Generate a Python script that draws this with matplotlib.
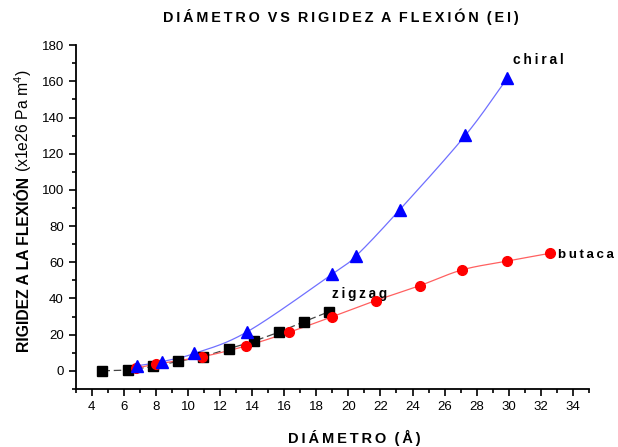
import numpy as np
import matplotlib.pyplot as plt
from matplotlib.ticker import MultipleLocator

plt.rcParams['font.family'] = ['Liberation Sans', 'DejaVu Sans']
plt.rcParams['mathtext.fontset'] = 'custom'
plt.rcParams['mathtext.rm'] = 'Liberation Sans'

# zigzag
zig_x = [4.67, 6.27, 7.85, 9.38, 10.94, 12.55, 14.09, 15.65, 17.22, 18.8]
zig_y = [0.0, 0.4, 2.4, 5.2, 7.8, 12.2, 16.3, 21.3, 27.1, 32.7]
# butaca
but_x = [6.79, 8.03, 10.9, 13.6, 16.3, 19.0, 21.7, 24.46, 27.1, 29.87, 32.6]
but_y = [1.5, 3.7, 7.8, 13.7, 21.3, 29.9, 38.8, 47.1, 55.8, 60.6, 65.0]
# chiral
chi_x = [6.85, 8.35, 10.4, 13.7, 19.0, 20.5, 23.2, 27.3, 29.9]
chi_y = [2.8, 5.0, 9.6, 21.6, 53.5, 63.7, 89.0, 130.2, 161.6]


def smooth(x, y, n=30):
    # catmull-rom curve through the points, only for drawing the line
    x = np.asarray(x, float)
    y = np.asarray(y, float)
    px = np.concatenate([[2 * x[0] - x[1]], x, [2 * x[-1] - x[-2]]])
    py = np.concatenate([[2 * y[0] - y[1]], y, [2 * y[-1] - y[-2]]])
    t = np.linspace(0, 1, n)
    xs, ys = [], []
    for i in range(1, len(px) - 2):
        for p, out in ((px, xs), (py, ys)):
            p0, p1, p2, p3 = p[i - 1], p[i], p[i + 1], p[i + 2]
            out.extend(0.5 * (2 * p1 + (-p0 + p2) * t
                              + (2 * p0 - 5 * p1 + 4 * p2 - p3) * t ** 2
                              + (-p0 + 3 * p1 - 3 * p2 + p3) * t ** 3))
    return xs, ys


def spaced(s):
    # a little letter spacing, like the original
    return '\u2009'.join(s)


W, H = 618, 447
fig = plt.figure(figsize=(6.18, 4.47), dpi=100)
ax = fig.add_axes([0.1225, 0.13, 0.8305, 0.769])

ax.plot(zig_x, zig_y, color='#444444', lw=0.9, dashes=(6, 3), zorder=2)
ax.plot(zig_x, zig_y, ls='none', marker='s', ms=6.5, color='black', zorder=3)

sx, sy = smooth(but_x, but_y)
ax.plot(sx, sy, color='#ff6060', lw=0.9, zorder=2)
ax.plot(but_x, but_y, ls='none', marker='o', ms=7, color='red', zorder=4)

sx, sy = smooth(chi_x, chi_y)
ax.plot(sx, sy, color='#7070ff', lw=0.9, zorder=2)
ax.plot(chi_x, chi_y, ls='none', marker='^', ms=9, color='blue', zorder=5)

ax.text(30.25, 171.6, spaced('chiral'), fontsize=10, fontweight='bold', va='center')
ax.text(33.05, 64, spaced('butaca'), fontsize=9.6, fontweight='bold', va='center')
ax.text(19.0, 42.6, spaced('zigzag'), fontsize=9.8, fontweight='bold', va='center')

ax.set_xlim(3, 35)
ax.set_ylim(-10, 180)
ax.xaxis.set_major_locator(MultipleLocator(2))
ax.xaxis.set_minor_locator(MultipleLocator(1))
ax.yaxis.set_major_locator(MultipleLocator(20))
ax.yaxis.set_minor_locator(MultipleLocator(10))
ax.tick_params(which='major', length=5, width=1.2, labelsize=9.5)
ax.tick_params(which='minor', length=3, width=1.2)
for s in ['top', 'right']:
    ax.spines[s].set_visible(False)
for s in ['left', 'bottom']:
    ax.spines[s].set_linewidth(1.3)

ax.set_xlabel(spaced('DIÁMETRO') + '  ' + spaced('(Å)'), fontsize=10.5, fontweight='bold')
ax.xaxis.set_label_coords(0.543, -0.118)

# y label: bold part, then the unit in normal weight
yl1 = fig.text(29 / W, 1 - 352 / H, 'RIGIDEZ A LA FLEXIÓN', fontsize=11.3, fontweight='bold',
               rotation=90, rotation_mode='anchor', ha='left', va='baseline')
fig.canvas.draw()
top = yl1.get_window_extent().y1 / fig.dpi / 4.47
fig.text(29 / W, top + 5 / H, r'(x1e26 Pa m$^4$)', fontsize=11.3,
         rotation=90, rotation_mode='anchor', ha='left', va='baseline')

fig.text(0.551, 0.962, '  '.join(spaced(w) for w in 'DIÁMETRO VS RIGIDEZ A FLEXIÓN (EI)'.split()),
         fontsize=10.4, fontweight='bold', ha='center', va='center')

fig.savefig('out.png', dpi=100)
